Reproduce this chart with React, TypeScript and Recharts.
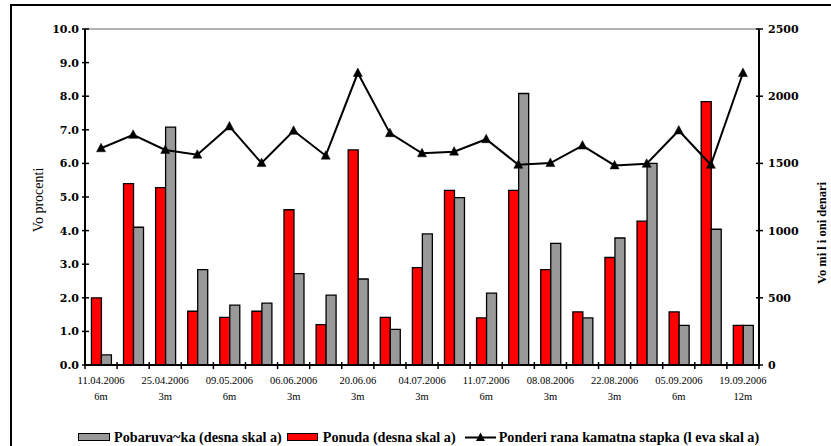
import React from 'react';
import { ComposedChart, Bar, Line, XAxis, YAxis, Legend, ReferenceLine } from 'recharts';

const dates = ['11.04.2006', '', '25.04.2006', '', '09.05.2006', '', '06.06.2006', '', '20.06.06', '', '04.07.2006', '', '11.07.2006', '', '08.08.2006', '', '22.08.2006', '', '05.09.2006', '', '19.09.2006'];
const tenors = ['6m', '', '3m', '', '6m', '', '3m', '', '3m', '', '3m', '', '6m', '', '3m', '', '3m', '', '6m', '', '12m'];
const ponuda = [500, 1350, 1320, 400, 355, 400, 1155, 300, 1600, 355, 725, 1300, 350, 1300, 710, 395, 800, 1070, 395, 1960, 295];
const pobaruvanje = [75, 1025, 1770, 710, 445, 460, 680, 520, 640, 265, 975, 1245, 535, 2020, 905, 350, 945, 1500, 295, 1010, 295];
const rate = [6.45, 6.85, 6.4, 6.26, 7.1, 6.01, 6.97, 6.23, 8.69, 6.9, 6.3, 6.35, 6.72, 5.96, 6.01, 6.53, 5.94, 5.99, 6.98, 5.96, 8.69];
const leftTicks = [0, 1, 2, 3, 4, 5, 6, 7, 8, 9, 10];
const rightTicks = [0, 500, 1000, 1500, 2000, 2500];

const legendLabels = ['Pobaruva~ka (desna skal a)', 'Ponuda (desna skal a)', 'Ponderi rana kamatna stapka (l eva skal a)'];
const leftTitle = 'Vo procenti';
const rightTitle = 'Vo mi l i oni denari';

const data = dates.map((d, i) => ({
  key: i,
  date: d,
  tenor: tenors[i],
  ponuda: ponuda[i],
  pobaruvanje: pobaruvanje[i],
  rate: rate[i],
}));

const W = 831;
const H = 446;
const M = { top: 29, right: 12, left: 0, bottom: 0 };
const LEFT_W = 85;
const RIGHT_W = 60;
const PLOT_W = W - M.left - M.right - LEFT_W - RIGHT_W;
const STEP = PLOT_W / data.length;

const RED = '#FF0000';
const GRAY = '#999999';
const TICK_FONT = "'DejaVu Serif', 'Liberation Serif', serif";
const TEXT_FONT = "'Liberation Serif', 'Times New Roman', Times, serif";

const XTick = (props: any) => {
  const { x, y, payload } = props;
  const i = payload.value as number;
  const last = i === data.length - 1;
  return (
    <g>
      <line x1={x - STEP / 2} x2={x - STEP / 2} y1={y - 3} y2={y + 4} stroke="#000" strokeWidth={1.5} />
      {last && <line x1={x + STEP / 2} x2={x + STEP / 2} y1={y - 3} y2={y + 4} stroke="#000" strokeWidth={1.5} />}
      {dates[i] && (
        <text x={x} y={y + 19} textAnchor="middle" style={{ fontFamily: TEXT_FONT }} fontSize={10.5} fill="#000">
          {dates[i]}
        </text>
      )}
      {tenors[i] && (
        <text x={x} y={y + 35} textAnchor="middle" style={{ fontFamily: TEXT_FONT }} fontSize={10.5} fill="#000">
          {tenors[i]}
        </text>
      )}
    </g>
  );
};

const LeftTick = (props: any) => {
  const { x, y, payload } = props;
  return (
    <g>
      <line x1={x - 3} x2={x + 4} y1={y} y2={y} stroke="#000" strokeWidth={1.5} />
      <text x={x - 6} y={y + 4} textAnchor="end" style={{ fontFamily: TICK_FONT }} fontWeight="bold" fontSize={11} fill="#000">
        {Number(payload.value).toFixed(1)}
      </text>
    </g>
  );
};

const RightTick = (props: any) => {
  const { x, y, payload } = props;
  return (
    <g>
      <line x1={x - 3} x2={x + 4} y1={y} y2={y} stroke="#000" strokeWidth={1.5} />
      <text x={x + 9} y={y + 4} textAnchor="start" style={{ fontFamily: TICK_FONT }} fontWeight="bold" fontSize={11} fill="#000">
        {payload.value}
      </text>
    </g>
  );
};

const Triangle = (props: any) => {
  const { cx, cy } = props;
  if (cx == null || cy == null) return null;
  return <polygon points={`${cx - 4.5},${cy + 3.5} ${cx + 4.5},${cy + 3.5} ${cx},${cy - 5}`} fill="#000" stroke="#000" strokeWidth={0.5} />;
};

const SideTitle = (props: any) => {
  const { viewBox, value, dx, dy, bold } = props;
  const cx = viewBox.x + dx;
  const cy = viewBox.y + viewBox.height / 2 + dy;
  return (
    <text
      x={cx}
      y={cy}
      transform={`rotate(-90 ${cx} ${cy})`}
      textAnchor="middle"
      dominantBaseline="central"
      style={{ fontFamily: TEXT_FONT }}
      fontWeight={bold ? 'bold' : 'normal'}
      fontSize={bold ? 12.5 : 14}
      fill="#000"
    >
      {value}
    </text>
  );
};

const LegendContent = () => (
  <div
    style={{
      display: 'flex',
      alignItems: 'center',
      fontFamily: TEXT_FONT,
      fontWeight: 'bold',
      fontSize: 14.2,
      paddingLeft: 78,
      whiteSpace: 'nowrap',
      lineHeight: '16px',
      color: '#000',
    }}
  >
    <span style={{ display: 'inline-block', width: 30, height: 6, background: GRAY, border: '1.5px solid #000', marginRight: 4 }} />
    <span style={{ marginRight: 5 }}>{legendLabels[0]}</span>
    <span style={{ display: 'inline-block', width: 29, height: 6, background: RED, border: '1.5px solid #000', marginRight: 5 }} />
    <span style={{ marginRight: 9 }}>{legendLabels[1]}</span>
    <svg width={31} height={12} style={{ marginRight: 3 }}>
      <line x1={0} x2={31} y1={6.5} y2={6.5} stroke="#000" strokeWidth={2} />
      <polygon points="11,10 20,10 15.5,1.5" fill="#000" />
    </svg>
    <span>{legendLabels[2]}</span>
  </div>
);

export default function App() {
  return (
    <div style={{ position: 'absolute', left: 0, top: 0, width: W, height: H, overflow: 'hidden', background: '#fff', fontFamily: TEXT_FONT }}>
      <div
        style={{
          position: 'absolute',
          left: 10,
          top: 4,
          width: W,
          height: H,
          borderTop: '2.5px solid #000',
          borderLeft: '2.5px solid #000',
        }}
      />
      <ComposedChart width={W} height={H} data={data} margin={M} barCategoryGap="20%" barGap={0}>
        <XAxis
          dataKey="key"
          xAxisId="x"
          height={H - 365 - M.bottom}
          interval={0}
          tickSize={0}
          tickMargin={0}
          tick={<XTick />}
          axisLine={{ stroke: '#000', strokeWidth: 2 }}
          tickLine={false}
        />
        <YAxis
          yAxisId="left"
          orientation="left"
          width={LEFT_W}
          domain={[0, 10]}
          ticks={leftTicks}
          interval={0}
          tickSize={0}
          tickMargin={0}
          tick={<LeftTick />}
          axisLine={{ stroke: '#000', strokeWidth: 2 }}
          tickLine={false}
          label={(p: any) => <SideTitle {...p} value={leftTitle} dx={38} dy={3} />}
        />
        <YAxis
          yAxisId="right"
          orientation="right"
          width={RIGHT_W}
          domain={[0, 2500]}
          ticks={rightTicks}
          interval={0}
          tickSize={0}
          tickMargin={0}
          tick={<RightTick />}
          axisLine={{ stroke: '#000', strokeWidth: 2 }}
          tickLine={false}
          label={(p: any) => <SideTitle {...p} value={rightTitle} dx={63} dy={36} bold />}
        />
        <ReferenceLine yAxisId="left" xAxisId="x" y={10} stroke="#999" strokeWidth={1.5} />
        <Bar
          xAxisId="x"
          yAxisId="right"
          dataKey="ponuda"
          fill={RED}
          stroke="#000"
          strokeWidth={1.3}
          isAnimationActive={false}
        />
        <Bar
          xAxisId="x"
          yAxisId="right"
          dataKey="pobaruvanje"
          fill={GRAY}
          stroke="#000"
          strokeWidth={1.3}
          isAnimationActive={false}
        />
        <Line
          xAxisId="x"
          yAxisId="left"
          dataKey="rate"
          stroke="#000"
          strokeWidth={2}
          dot={<Triangle />}
          activeDot={false}
          isAnimationActive={false}
        />
        <Legend
          layout="horizontal"
          verticalAlign="middle"
          align="center"
          content={<LegendContent />}
          wrapperStyle={{ top: 429, left: 0, width: W, height: 18 }}
        />
      </ComposedChart>
    </div>
  );
}
